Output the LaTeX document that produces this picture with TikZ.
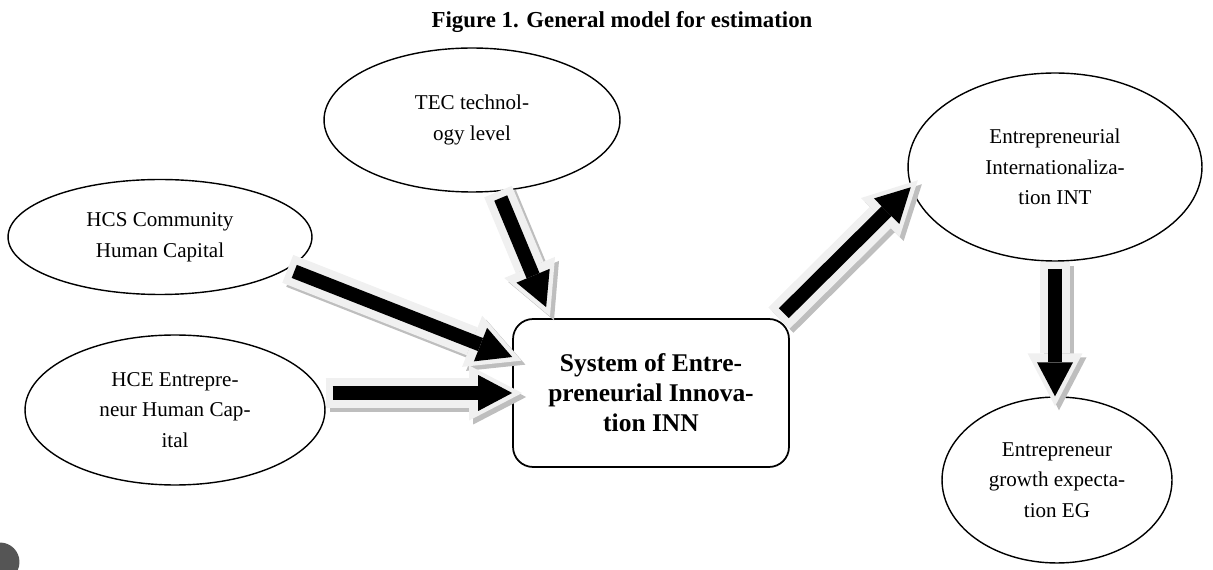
\documentclass[tikz,border=0pt]{standalone}
\usepackage{fontspec}
\setmainfont{Liberation Serif}
\usetikzlibrary{positioning,shapes.geometric,arrows.meta}
\definecolor{rimgray}{RGB}{240,240,240}
\definecolor{shadegray}{RGB}{190,190,190}
\definecolor{dotgray}{RGB}{85,85,85}

\begin{document}
\begin{tikzpicture}[x=0.02cm, y=-0.02cm,
  factor/.style={ellipse, draw, line width=0.8pt, inner sep=0pt, align=center,
                 font=\fontsize{12}{17.5}\selectfont},
  core/.style={rectangle, rounded corners=0.4cm, draw, line width=1pt, align=center,
               minimum width=5.52cm, minimum height=2.96cm,
               font=\fontsize{14.5}{17}\selectfont\bfseries},
  fatarrow/.style={line width=0.28cm, -{Triangle[width=0.72cm,length=0.68cm,line width=0pt]},
               shorten <=0.14cm,
               preaction={draw=shadegray, line width=0.6cm,
                          -{Triangle[width=1.1cm,length=1.06cm,line width=0pt]},
                          shorten <=0pt, shorten >=-0.2cm,
                          transform canvas={xshift=0.08cm,yshift=-0.08cm}},
               preaction={draw=rimgray, line width=0.6cm,
                          -{Triangle[width=1.1cm,length=1.06cm,line width=0pt]},
                          shorten <=0pt, shorten >=-0.2cm}}
]
\useasboundingbox (0,0) rectangle (1213,570);
\fill[dotgray] (0,562) circle (0.39cm);
\node[font=\fontsize{13}{15}\selectfont\bfseries] (title) at (622,22) {Figure 1. General model for estimation};
\node[factor, minimum width=5.92cm, minimum height=2.88cm] (tec) at (472,120) {TEC technol-\\ogy level};
\node[factor, minimum width=6.08cm, minimum height=2.3cm] (hcs) at (160,237) {HCS Community\\Human Capital};
\node[factor, minimum width=6cm, minimum height=3cm] (hce) at (175,410) {HCE Entrepre-\\neur Human Cap-\\ital};
\node[core] (inn) at (651,393) {System of Entre-\\preneurial Innova-\\tion INN};
\node[factor, minimum width=5.88cm, minimum height=3.76cm] (int) at (1055,167) {Entrepreneurial\\Internationaliza-\\tion INT};
\node[factor, minimum width=4.6cm, minimum height=3.32cm] (eg) at (1057,480) {Entrepreneur\\growth expecta-\\tion EG};
\draw[fatarrow] (tec.-70) -- ([xshift=0.68cm,yshift=0.22cm]inn.north west);
\draw[fatarrow] (hcs.-14) -- ([yshift=0.72cm]inn.west);
\draw[fatarrow] (inn.west -| hce.east) -- (inn.west);
\draw[fatarrow] ([xshift=-0.22cm]inn.north east) -- (int.188);
\draw[fatarrow] (int.south) -- (int.south |- eg.north);
\end{tikzpicture}
\end{document}
